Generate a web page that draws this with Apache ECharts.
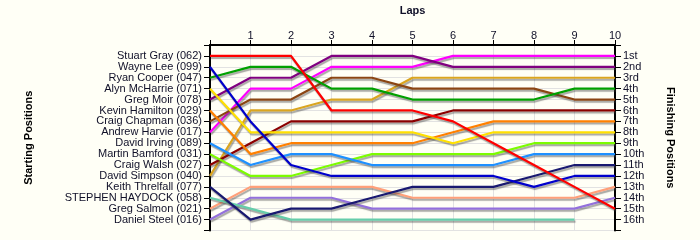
<!DOCTYPE html>
<html>
<head>
<meta charset="utf-8">
<script src="https://cdn.jsdelivr.net/npm/echarts@6/dist/echarts.min.js"></script>
<style>
html,body{margin:0;padding:0;background:#FFFFF6;}
#c{width:700px;height:240px;}
</style>
</head>
<body>
<div id="c"></div>
<script>
// Data
const laps = [0,1,2,3,4,5,6,7,8,9,10];
const drivers = [
  'Stuart Gray (062)','Wayne Lee (099)','Ryan Cooper (047)','Alyn McHarrie (071)',
  'Greg Moir (078)','Kevin Hamilton (029)','Craig Chapman (036)','Andrew Harvie (017)',
  'David Irving (089)','Martin Bamford (031)','Craig Walsh (027)','David Simpson (040)',
  'Keith Threlfall (077)','STEPHEN HAYDOCK (058)','Greg Salmon (021)','Daniel Steel (016)'
];
const finishLabels = ['1st','2nd','3rd','4th','5th','6th','7th','8th','9th','10th','11th','12th','13th','14th','15th','16th'];

// Position per lap (lap 0 = start)
const stuartGray     = [1,1,1,6,6,6,7,9,11,13,15];
const wayneLee       = [2,7,11,12,12,12,12,12,13,12,12];
const ryanCooper     = [3,2,2,4,4,5,5,5,5,4,4];
const alynMcHarrie   = [4,8,8,8,8,8,9,8,8,8,8];
const gregMoir       = [5,3,3,1,1,1,2,2,2,2,2];
const kevinHamilton  = [6,10,9,9,9,9,8,7,7,7,7];
const craigChapman   = [7,5,5,3,3,4,4,4,4,5,5];
const andrewHarvie   = [8,4,4,2,2,2,1,1,1,1,1];
const davidIrving    = [9,11,10,10,11,11,11,11,10,10,10];
const martinBamford  = [10,12,12,11,10,10,10,10,9,9,9];
const craigWalsh     = [11,9,7,7,7,7,6,6,6,6,6];
const davidSimpson   = [12,6,6,5,5,3,3,3,3,3,3];
const keithThrelfall = [13,16,15,15,14,13,13,13,12,11,11];
const stephenHaydock = [14,15,16,16,16,16,16,16,16,16];
const gregSalmon     = [15,13,13,13,13,14,14,14,14,14,13];
const danielSteel    = [16,14,14,14,15,15,15,15,15,15,14];

const positions = [stuartGray, wayneLee, ryanCooper, alynMcHarrie, gregMoir, kevinHamilton,
  craigChapman, andrewHarvie, davidIrving, martinBamford, craigWalsh, davidSimpson,
  keithThrelfall, stephenHaydock, gregSalmon, danielSteel];

// Styles
const palette = ['#FF0000','#0000CC','#00A000','#FFE000','#800080','#FF8000','#8B4513','#FF00FF',
  '#1E90FF','#7CFC00','#8B0000','#DAA520','#191970','#66CDAA','#FFA07A','#9370DB'];

const font = 'Liberation Sans, Arial, sans-serif';
const txt = '#101028';

const series = positions.map((p, i) => ({
  name: drivers[i],
  type: 'line',
  data: p.map((v, j) => [laps[j], v]),
  symbol: 'none',
  silent: true,
  animation: false,
  lineStyle: {
    width: 2.2,
    color: palette[i],
    shadowColor: 'rgba(60,60,60,0.45)',
    shadowBlur: 1,
    shadowOffsetX: 1,
    shadowOffsetY: 2
  },
  z: 2 + (16 - i)
}));

const chart = echarts.init(document.getElementById('c'), null, {renderer: 'canvas'});
chart.setOption({
  backgroundColor: '#FFFFF6',
  animation: false,
  grid: {left: 210, right: 85, top: 43, height: 187.5, containLabel: false},
  xAxis: {
    type: 'value', min: 0, max: 10, interval: 1, position: 'top',
    name: 'Laps', nameLocation: 'middle', nameGap: 29,
    nameTextStyle: {fontFamily: font, fontSize: 11, fontWeight: 'bold', color: txt},
    axisLine: {show: true, lineStyle: {color: '#000', width: 2}},
    axisTick: {show: true, inside: false, length: 5, lineStyle: {color: '#000'}},
    axisLabel: {fontFamily: font, fontSize: 11, color: txt, margin: 4,
      formatter: v => v === 0 ? '' : String(v)},
    splitLine: {show: true, lineStyle: {color: '#E2E2E2', width: 1}}
  },
  yAxis: [
    {
      type: 'value', min: 0, max: 17, interval: 1, inverse: true, position: 'left',
      name: 'Starting Positions', nameLocation: 'middle', nameRotate: 90, nameGap: 176,
      nameTextStyle: {fontFamily: font, fontSize: 11, fontWeight: 'bold', color: '#000'},
      axisLine: {show: true, lineStyle: {color: '#000', width: 2}},
      axisTick: {show: true, length: 6, lineStyle: {color: '#000'}},
      axisLabel: {fontFamily: font, fontSize: 11, color: txt, margin: 8,
        formatter: v => drivers[v - 1] || ''},
      splitLine: {show: true, lineStyle: {color: '#E2E2E2', width: 1}}
    },
    {
      type: 'value', min: 0, max: 17, interval: 1, inverse: true, position: 'right',
      name: 'Finishing Positions', nameLocation: 'middle', nameRotate: -90, nameGap: 50,
      nameTextStyle: {fontFamily: font, fontSize: 11, fontWeight: 'bold', color: '#000'},
      axisLine: {show: true, lineStyle: {color: '#000', width: 2}},
      axisTick: {show: true, length: 6, lineStyle: {color: '#000'}},
      axisLabel: {fontFamily: font, fontSize: 11, color: txt, margin: 8,
        formatter: v => finishLabels[v - 1] || ''},
      splitLine: {show: false}
    }
  ],
  series: series
});
</script>
</body>
</html>
